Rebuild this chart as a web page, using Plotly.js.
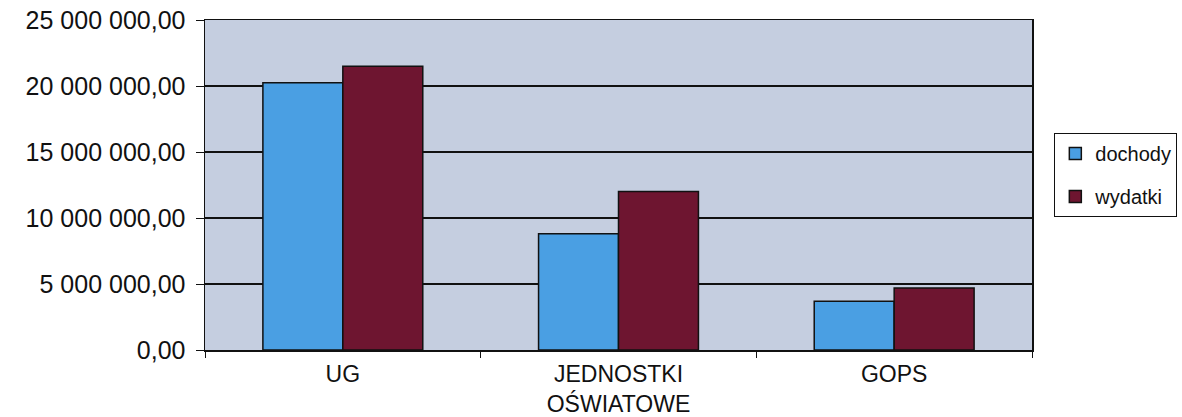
<!DOCTYPE html>
<html>
<head>
<meta charset="utf-8">
<script src="https://cdn.plot.ly/plotly-3.0.1.min.js"></script>
<style>html,body{margin:0;padding:0;background:#fff;}#chart{width:1182px;height:417px;}</style>
</head>
<body>
<div id="chart"></div>
<script>
const categories = ["UG", "JEDNOSTKI<br>OŚWIATOWE", "GOPS"];
const seriesNames = ["dochody", "wydatki"];
const dochody = [20250000, 8800000, 3700000];
const wydatki = [21500000, 12000000, 4700000];
const yTicks = [0, 5000000, 10000000, 15000000, 20000000, 25000000];

const font = "Liberation Sans, Arial, sans-serif";
const traces = [
  {type: "bar", name: seriesNames[0], x: categories, y: dochody, legendgroup: "a",
   marker: {color: "#4a9fe3", line: {color: "#111111", width: 1.5}}},
  {type: "bar", name: seriesNames[1], x: categories, y: wydatki, legendgroup: "b",
   marker: {color: "#6e1530", line: {color: "#111111", width: 1.5}}}
];
const layout = {
  width: 1182, height: 417,
  margin: {l: 205, r: 150, t: 20, b: 67, autoexpand: false},
  paper_bgcolor: "#ffffff",
  plot_bgcolor: "#c5cee0",
  separators: ", ",
  barmode: "group",
  bargap: 0.42,
  bargroupgap: 0,
  font: {family: font, color: "#111111", size: 24},
  xaxis: {
    showline: true, linecolor: "#111111", linewidth: 1.5, mirror: true,
    ticks: "outside", ticklen: 6, tickcolor: "#111111", tickson: "boundaries",
    tickfont: {size: 23, family: font, color: "#111111"}, ticklabelstandoff: 3,
    showgrid: false, zeroline: false, fixedrange: true
  },
  yaxis: {
    range: [0, 25000000], tickvals: yTicks, tickformat: ",.2f",
    showline: true, linecolor: "#111111", linewidth: 1.5, mirror: true,
    ticks: "outside", ticklen: 8, tickcolor: "#111111", ticklabelstandoff: 5,
    showgrid: true, gridcolor: "#111111", gridwidth: 1.2,
    zeroline: false, tickfont: {size: 25, family: font, color: "#111111"},
    fixedrange: true
  },
  showlegend: true,
  legend: {
    x: 1.027, y: 0.53, xanchor: "left", yanchor: "middle",
    bordercolor: "#111111", borderwidth: 1, bgcolor: "#ffffff",
    font: {size: 20, family: font, color: "#111111"},
    traceorder: "grouped", tracegroupgap: 14, itemwidth: 30
  }
};
Plotly.newPlot("chart", traces, layout, {displayModeBar: false, staticPlot: true});
</script>
</body>
</html>
